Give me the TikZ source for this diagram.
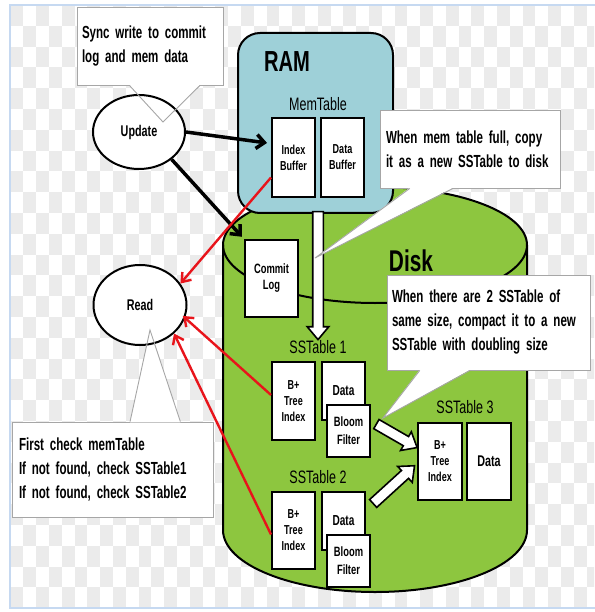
\documentclass[tikz,border=0pt]{standalone}
\usepackage{fontspec}
\setmainfont{Liberation Sans}[FakeStretch=0.695]
\newfontfamily\boldnarrow{Liberation Sans Bold}[FakeStretch=0.695]
\newfontfamily\notenarrow{Liberation Sans Bold}[FakeStretch=0.66]
\usetikzlibrary{arrows.meta,shapes.geometric,shapes.arrows,calc}

\definecolor{ramblue}{HTML}{9ED0D8}
\definecolor{diskgreen}{HTML}{8DC63F}
\definecolor{notegray}{HTML}{A6A6A6}
\definecolor{checkgray}{HTML}{EBEBEB}
\definecolor{frameblue}{HTML}{C6D9F1}
\definecolor{readred}{HTML}{E8141B}

\begin{document}
\begin{tikzpicture}[x=1pt, y=-1pt,
	box/.style={draw, line width=2pt, fill=white, inner sep=0pt, align=center, font=\boldnarrow\fontsize{13}{16}\selectfont},
	note/.style={draw=notegray, line width=0.9pt, fill=white, inner sep=0pt, align=left, font=\notenarrow\fontsize{17.5}{24}\selectfont},
	oval/.style={ellipse, draw, line width=2pt, fill=white, font=\boldnarrow\fontsize{15.5}{17}\selectfont},
	tablename/.style={font=\fontsize{18}{20}\selectfont},
	fatarrow/.style={single arrow, draw, line width=1.6pt, fill=white, inner xsep=0pt, inner ysep=4.5pt, single arrow head extend=5.5pt, single arrow tip angle=80, sloped, allow upside down, midway},
	wr/.style={-{Straight Barb[length=8pt,width=14pt]}, line width=3.5pt},
	rd/.style={-{Straight Barb[length=8pt,width=12pt]}, readred, line width=2.4pt}]
	\useasboundingbox (0,0) rectangle (594,612);
	
	% Background
	\begin{scope}
		\clip (10,5) rectangle (594,608);
		\foreach \i in {0,...,45}
			\foreach \j in {0,...,28}
				{\ifodd\numexpr\i+\j\relax\else\fill[checkgray] (10.5+12.8*\i,5+20.8*\j) rectangle ++(12.8,20.8);\fi}
	\end{scope}
	\draw[frameblue, line width=1.5pt] (600,5) -- (10,5) -- (10,608) -- (600,608);
	
	% Disk
	\filldraw[fill=diskgreen, line width=2pt] (223,245) -- (223,530) arc[start angle=180, end angle=0, x radius=152, y radius=62] -- (527,245) arc[start angle=0, end angle=-180, x radius=152, y radius=58] -- cycle;
	\draw[line width=2pt] (223,245) arc[start angle=180, end angle=0, x radius=152, y radius=58];
	\node[font=\boldnarrow\fontsize{30}{32}\selectfont] (disk) at (411,261) {Disk};
	
	% RAM
	\node[draw, line width=2pt, fill=ramblue, rounded corners=22pt, minimum width=155pt, minimum height=180pt] (ram) at (315.5,123) {};
	\node[font=\boldnarrow\fontsize{29}{31}\selectfont] (ramname) at (287,62) {RAM};
	\node[tablename] (memtable) at (318,104) {MemTable};
	\node[box, minimum width=43pt, minimum height=79pt] (idxbuf) at (293.5,157.5) {Index\\Buffer};
	\node[box, minimum width=43pt, minimum height=79pt] (databuf) at (342.5,157.5) {Data\\Buffer};
	
	% Commit log
	\node[box, font=\boldnarrow\fontsize{13.5}{16}\selectfont, minimum width=53pt, minimum height=77pt] (commitlog) at (271.5,278.5) {Commit\\Log};
	
	% SSTable 1
	\node[tablename] (sstone) at (318,347) {SSTable 1};
	\node[box, minimum width=43pt, minimum height=78pt] (idxone) at (293.5,401) {B+\\Tree\\Index};
	\node[box, font=\boldnarrow\fontsize{14.5}{16}\selectfont, minimum width=43pt, minimum height=58pt] (dataone) at (343.5,391) {Data};
	\node[box, font=\boldnarrow\fontsize{13.5}{18}\selectfont, minimum width=43pt, minimum height=52pt] (bloomone) at (348.5,431) {Bloom\\Filter};
	
	% SSTable 2
	\node[tablename] (ssttwo) at (318,477) {SSTable 2};
	\node[box, minimum width=43pt, minimum height=77pt] (idxtwo) at (293.5,530.5) {B+\\Tree\\Index};
	\node[box, font=\boldnarrow\fontsize{14.5}{16}\selectfont, minimum width=43pt, minimum height=58pt] (datatwo) at (343.5,521) {Data};
	\node[box, font=\boldnarrow\fontsize{13.5}{18}\selectfont, minimum width=43pt, minimum height=52pt] (bloomtwo) at (348.5,561) {Bloom\\Filter};
	
	% SSTable 3
	\node[tablename] (sstthree) at (465,407) {SSTable 3};
	\node[box, minimum width=44pt, minimum height=77pt] (idxthree) at (440,461.5) {B+\\Tree\\Index};
	\node[box, font=\boldnarrow\fontsize{15.5}{16}\selectfont, minimum width=44pt, minimum height=77pt] (datathree) at (489,461.5) {Data};
	
	% Flush and compaction arrows
	\coordinate (flushtop) at ($(idxbuf.south east)!0.5!(databuf.south west)+(0,10)$);
	\path (flushtop) -- (sstone.north) node[fatarrow, minimum height=128pt] (flush) {};
	\path ([yshift=10pt]bloomone.east) -- ([yshift=14pt]idxthree.west) node[fatarrow, minimum height=47pt] (mergeone) {};
	\path ([yshift=11pt]datatwo.east) -- ([yshift=-2pt]idxthree.west) node[fatarrow, minimum height=56pt] (mergetwo) {};
	
	% Notes
	\node[note, minimum width=146pt, minimum height=78pt, text width=136pt] (syncnote) at (150,46) {Sync write to commit\\log and mem data};
	\node[note, minimum width=180pt, minimum height=78pt, text width=168pt] (memnote) at (470,149) {When mem table full, copy\\it as a new SSTable to disk};
	\node[note, minimum width=203pt, minimum height=95pt, text width=193pt] (compactnote) at (488.5,322.5) {When there are 2 SSTable of\\same size, compact it to a new\\SSTable with doubling size};
	\node[note, minimum width=201pt, minimum height=95pt, text width=187pt] (readnote) at (112.5,469.5) {First check memTable\\If not found, check SSTable1\\If not found, check SSTable2};
	
	\coordinate (synctip) at (163,122);
	\coordinate (memtip) at (315,258);
	\coordinate (compacttip) at (383,418);
	\coordinate (readtip) at (150,330);
	\coordinate (syncL) at ($(syncnote.south west)!0.36!(syncnote.south east)$);
	\coordinate (syncR) at ($(syncnote.south west)!0.84!(syncnote.south east)$);
	\coordinate (memL) at ($(memnote.south west)!0.167!(memnote.south east)$);
	\coordinate (memR) at ($(memnote.south west)!0.406!(memnote.south east)$);
	\coordinate (compactL) at ($(compactnote.south west)!0.163!(compactnote.south east)$);
	\coordinate (compactR) at ($(compactnote.south west)!0.409!(compactnote.south east)$);
	\coordinate (readL) at ($(readnote.north west)!0.587!(readnote.north east)$);
	\coordinate (readR) at ($(readnote.north west)!0.836!(readnote.north east)$);
	
	\fill[white] ([yshift=0.7pt]syncL) -- (synctip) -- ([yshift=0.7pt]syncR) -- cycle;
	\fill[white] ([yshift=0.7pt]memL) -- (memtip) -- ([yshift=0.7pt]memR) -- cycle;
	\fill[white] ([yshift=0.7pt]compactL) -- (compacttip) -- ([yshift=0.7pt]compactR) -- cycle;
	\fill[white] ([yshift=-0.7pt]readL) -- (readtip) -- ([yshift=-0.7pt]readR) -- cycle;
	
	% Clients
	\node[oval, minimum width=92pt, minimum height=74pt] (update) at (139,132) {Update};
	\node[oval, minimum width=93pt, minimum height=80pt] (read) at (140,305) {Read};
	
	\draw[notegray, line width=0.9pt] (syncL) -- (synctip) -- (syncR);
	\draw[notegray, line width=0.9pt] (memL) -- (memtip) -- (memR);
	\draw[notegray, line width=0.9pt] (compactL) -- (compacttip) -- (compactR);
	\draw[notegray, line width=0.9pt] (readL) -- (readtip) -- (readR);
	
	% Write path
	\draw[wr, shorten >=4pt] (update.east) -- ([yshift=14pt]idxbuf.west);
	\draw[wr, shorten >=3pt] (update.-40) -- (commitlog.north west);
	
	% Read path
	\draw[rd] ([yshift=-20pt]idxbuf.west) -- (read.28);
	\draw[rd, shorten >=-3pt] ([yshift=6pt]idxone.west) -- (read.-16);
	\draw[rd] ([yshift=-4pt]idxtwo.west) -- (read.-40);
\end{tikzpicture}
\end{document}
